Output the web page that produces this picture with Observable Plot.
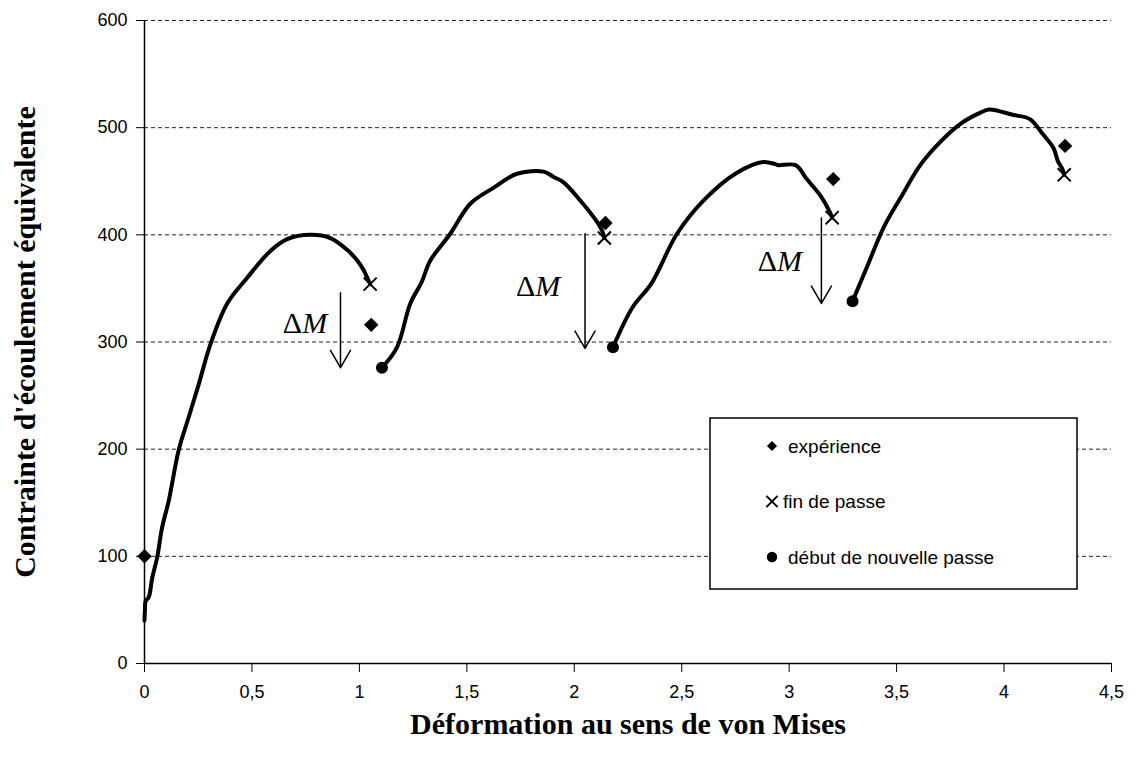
<!DOCTYPE html>
<html><head><meta charset="utf-8">
<script src="https://cdn.jsdelivr.net/npm/d3@7"></script>
<script src="https://cdn.jsdelivr.net/npm/@observablehq/plot@0.6"></script>
<style>body{margin:0;background:#fff}#chart{width:1136px;height:760px}</style>
</head><body><div id="chart"></div>
<script>
// Curve passes (strain, stress)
const pass1X = [0.0, 0.002, 0.005, 0.02, 0.036, 0.059, 0.082, 0.113, 0.16, 0.206, 0.253, 0.307, 0.385, 0.478, 0.586, 0.664, 0.772, 0.865, 0.943, 0.99, 1.02, 1.043, 1.05];
const pass1Y = [40, 50, 58, 62, 80, 99, 127, 152, 200, 230, 261, 298, 336, 360, 385, 396, 400, 397, 386, 376, 367, 357, 354];
const pass2X = [1.105, 1.175, 1.237, 1.29, 1.33, 1.423, 1.516, 1.625, 1.733, 1.857, 1.904, 1.95, 2.028, 2.106, 2.129, 2.14];
const pass2Y = [276, 295, 336, 356, 376, 401, 429, 444, 457, 459, 454, 449, 432, 412, 404, 397];
const pass3X = [2.18, 2.27, 2.36, 2.478, 2.601, 2.757, 2.88, 2.935, 2.95, 3.03, 3.082, 3.144, 3.19, 3.2];
const pass3Y = [295, 332, 355, 401, 432, 458, 468, 466, 465, 465, 452, 437, 421, 416];
const pass4X = [3.295, 3.36, 3.44, 3.52, 3.61, 3.70, 3.80, 3.89, 3.93, 4.04, 4.12, 4.18, 4.23, 4.25, 4.27, 4.28];
const pass4Y = [338, 369, 407, 435, 465, 486, 504, 514, 517, 512, 508, 494, 481, 469, 462, 456];

// Markers
const experienceX = [0, 1.055, 2.145, 3.205, 4.284];
const experienceY = [100, 316, 411, 452, 483];
const finX = [1.05, 2.14, 3.20, 4.28];
const finY = [354, 397, 416, 456];
const debutX = [1.105, 2.18, 3.295];
const debutY = [276, 295, 338];

// ΔM arrows and labels
const arrowX = [0.912, 2.05, 3.15];
const arrowTop = [346, 401, 416];
const arrowBottom = [276, 294, 336];
const deltaLabelX = [0.85, 1.935, 3.06];
const deltaLabelY = [317, 352, 375];

const xTicks = [0, 0.5, 1, 1.5, 2, 2.5, 3, 3.5, 4, 4.5];
const yTicks = [0, 100, 200, 300, 400, 500, 600];
const legendLabels = ["expérience", "fin de passe", "début de nouvelle passe"];
const xLabel = "Déformation au sens de von Mises";
const yLabel = "Contrainte d'écoulement équivalente";

const curve = [];
[[pass1X, pass1Y], [pass2X, pass2Y], [pass3X, pass3Y], [pass4X, pass4Y]].forEach(([xs, ys], i) =>
  xs.forEach((x, j) => curve.push({x, y: ys[j], pass: i})));
const pts = (xs, ys) => xs.map((x, i) => ({x, y: ys[i]}));
const experience = pts(experienceX, experienceY);
const fin = pts(finX, finY);
const debut = pts(debutX, debutY);
const arrows = arrowX.map((x, i) => ({x, top: arrowTop[i], bottom: arrowBottom[i]}));
const deltas = pts(deltaLabelX, deltaLabelY);
const fmt = d => String(d).replace(".", ",");

const serif = "'Liberation Serif', 'Times New Roman', serif";
const plot = Plot.plot({
  width: 1136, height: 760,
  marginLeft: 144, marginRight: 25, marginTop: 20, marginBottom: 97,
  x: {domain: [0, 4.5], label: null},
  y: {domain: [0, 600], label: null},
  style: {fontFamily: "'Liberation Sans', Arial, sans-serif", fontSize: "18px", background: "#fff", color: "#000"},
  marks: [
    Plot.ruleY(yTicks.filter(d => d > 0), {stroke: "#222", strokeWidth: 1, strokeDasharray: "4,3"}),
    Plot.axisY({ticks: yTicks, tickSize: 8, tickPadding: 9, label: null, fontSize: 18, tickFormat: d => String(d)}),
    Plot.axisX({ticks: xTicks, tickSize: 9, tickPadding: 13, label: null, fontSize: 18, tickFormat: fmt}),
    Plot.ruleX([0], {stroke: "#000", strokeWidth: 1.5}),
    Plot.ruleY([0], {stroke: "#000", strokeWidth: 1.5}),
    Plot.line(curve, {x: "x", y: "y", z: "pass", stroke: "#000", strokeWidth: 4, curve: "catmull-rom", strokeLinejoin: "round", strokeLinecap: "round"}),
    Plot.arrow(arrows, {x1: "x", x2: "x", y1: "top", y2: "bottom", stroke: "#000", strokeWidth: 1.5, headAngle: 60, headLength: 20}),
    Plot.text(deltas, {x: "x", y: "y", text: () => "M", textAnchor: "end", fontStyle: "italic", fontFamily: serif, fontSize: 30, fill: "#000"}),
    Plot.text(deltas, {x: "x", y: "y", text: () => "Δ", textAnchor: "end", dx: -25, fontFamily: serif, fontSize: 30, fill: "#000"}),
    Plot.dot(experience, {x: "x", y: "y", symbol: "diamond2", r: 6.5, fill: "#000"}),
    Plot.dot(fin, {x: "x", y: "y", symbol: "times", r: 6, stroke: "#000", strokeWidth: 2}),
    Plot.dot(debut, {x: "x", y: "y", symbol: "circle", r: 6, fill: "#000", stroke: "none"}),
    Plot.text([yLabel], {text: d => d, frameAnchor: "left", textAnchor: "middle", dx: -119, rotate: -90, fontFamily: serif, fontWeight: "bold", fontSize: 30, fill: "#000"}),
    Plot.text([xLabel], {text: d => d, frameAnchor: "bottom", textAnchor: "middle", dy: 70, fontFamily: serif, fontWeight: "bold", fontSize: 30, fill: "#000"})
  ]
});
document.getElementById("chart").appendChild(plot);

// Legend box
const svg = d3.select(plot);
const lg = svg.append("g").attr("text-anchor", "start");
lg.append("rect").attr("x", 710).attr("y", 418).attr("width", 367).attr("height", 171)
  .attr("fill", "#fff").attr("stroke", "#000").attr("stroke-width", 1.5);
const legendSymbols = [d3.symbolDiamond2, d3.symbolTimes, d3.symbolCircle];
const legendSizes = [65, 85, 85];
legendLabels.forEach((label, i) => {
  const cy = 446 + i * 55.5;
  const isStroke = i === 1;
  lg.append("path").attr("transform", `translate(772,${cy})`)
    .attr("d", d3.symbol(legendSymbols[i], legendSizes[i])())
    .attr("fill", isStroke ? "none" : "#000")
    .attr("stroke", isStroke ? "#000" : "none").attr("stroke-width", 2);
  lg.append("text").attr("x", i === 1 ? 783 : 788).attr("y", cy).attr("dy", "0.35em")
    .attr("text-anchor", "start")
    .attr("font-family", "'Liberation Sans', Arial, sans-serif").attr("font-size", 19)
    .attr("fill", "#000").text(label);
});
</script>
</body></html>
